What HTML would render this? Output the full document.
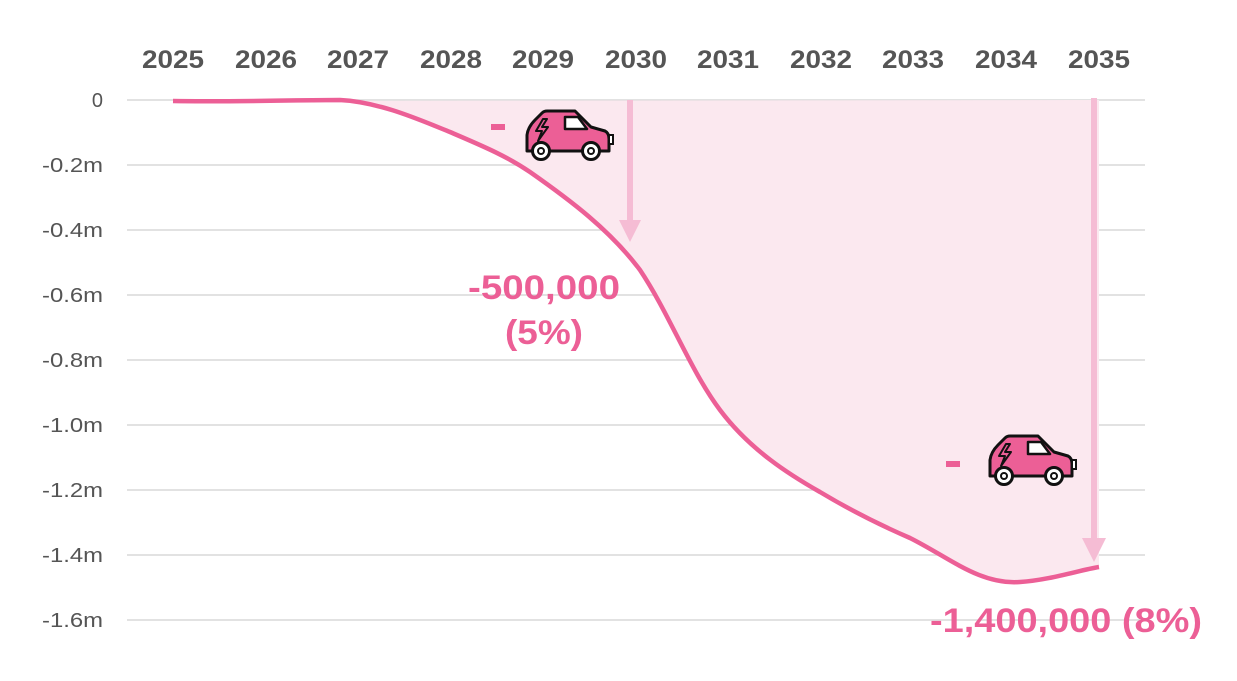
<!DOCTYPE html>
<html><head><meta charset="utf-8"><style>
html,body{margin:0;padding:0;background:#fff;}
svg{display:block;font-family:"Liberation Sans",Arial,sans-serif;}
</style></head><body>
<svg width="1237" height="681" viewBox="0 0 1237 681">
<defs>
<g id="car">
  <path d="M4,40 L4,24 Q5,16 12,9 L19,2 Q21,0 24,0 L52,0 L68,16 L82,20 Q86,22 86,28 L86,40 Z" fill="#ec5f96" stroke="#111" stroke-width="3" stroke-linejoin="round"/>
  <path d="M42,6 L55,6 L64,18 L42,18 Z" fill="#fff" stroke="#111" stroke-width="2.5" stroke-linejoin="round"/>
  <path d="M20,8 L13,20 L19,20 L15,30 L25,16 L19,16 L24,8 Z" fill="#ec5f96" stroke="#111" stroke-width="2" stroke-linejoin="round"/>
  <rect x="86" y="24" width="4" height="9" fill="#fff" stroke="#111" stroke-width="2"/>
  <circle cx="18" cy="40" r="8.5" fill="#fff" stroke="#111" stroke-width="3"/>
  <circle cx="18" cy="40" r="3" fill="#fff" stroke="#111" stroke-width="2"/>
  <circle cx="68" cy="40" r="8.5" fill="#fff" stroke="#111" stroke-width="3"/>
  <circle cx="68" cy="40" r="3" fill="#fff" stroke="#111" stroke-width="2"/>
</g>
</defs>
<g font-size="25" font-weight="bold" fill="#555" text-anchor="middle" lengthAdjust="spacingAndGlyphs">
<text x="173" y="68" textLength="62" lengthAdjust="spacingAndGlyphs">2025</text><text x="266" y="68" textLength="62" lengthAdjust="spacingAndGlyphs">2026</text><text x="358" y="68" textLength="62" lengthAdjust="spacingAndGlyphs">2027</text><text x="451" y="68" textLength="62" lengthAdjust="spacingAndGlyphs">2028</text><text x="543" y="68" textLength="62" lengthAdjust="spacingAndGlyphs">2029</text><text x="636" y="68" textLength="62" lengthAdjust="spacingAndGlyphs">2030</text><text x="728" y="68" textLength="62" lengthAdjust="spacingAndGlyphs">2031</text><text x="821" y="68" textLength="62" lengthAdjust="spacingAndGlyphs">2032</text><text x="913" y="68" textLength="62" lengthAdjust="spacingAndGlyphs">2033</text><text x="1006" y="68" textLength="62" lengthAdjust="spacingAndGlyphs">2034</text><text x="1099" y="68" textLength="62" lengthAdjust="spacingAndGlyphs">2035</text>
</g>
<g stroke="#d9d9d9" stroke-width="1.5">
<line x1="127" x2="1145" y1="100" y2="100"/><line x1="127" x2="1145" y1="165" y2="165"/><line x1="127" x2="1145" y1="230" y2="230"/><line x1="127" x2="1145" y1="295" y2="295"/><line x1="127" x2="1145" y1="360" y2="360"/><line x1="127" x2="1145" y1="425" y2="425"/><line x1="127" x2="1145" y1="490" y2="490"/><line x1="127" x2="1145" y1="555" y2="555"/><line x1="127" x2="1145" y1="620" y2="620"/>
</g>
<g font-size="20" fill="#555" text-anchor="end">
<text x="103" y="107">0</text><text x="103" y="172" textLength="61" lengthAdjust="spacingAndGlyphs">-0.2m</text><text x="103" y="237" textLength="61" lengthAdjust="spacingAndGlyphs">-0.4m</text><text x="103" y="302" textLength="61" lengthAdjust="spacingAndGlyphs">-0.6m</text><text x="103" y="367" textLength="61" lengthAdjust="spacingAndGlyphs">-0.8m</text><text x="103" y="432" textLength="61" lengthAdjust="spacingAndGlyphs">-1.0m</text><text x="103" y="497" textLength="61" lengthAdjust="spacingAndGlyphs">-1.2m</text><text x="103" y="562" textLength="61" lengthAdjust="spacingAndGlyphs">-1.4m</text><text x="103" y="627" textLength="61" lengthAdjust="spacingAndGlyphs">-1.6m</text>
</g>
<path d="M173,101 C230,102 300,100 340,100 C380,102 420,120 450,132 C480,145 505,155 530,172 C570,200 610,230 640,270 C670,315 690,370 720,410 C750,450 790,475 820,492 C850,510 880,525 910,538 C950,558 980,585 1020,582 C1050,580 1080,570 1099,567 L1099,100 Z" fill="#fbe8ef"/>
<path d="M173,101 C230,102 300,100 340,100 C380,102 420,120 450,132 C480,145 505,155 530,172 C570,200 610,230 640,270 C670,315 690,370 720,410 C750,450 790,475 820,492 C850,510 880,525 910,538 C950,558 980,585 1020,582 C1050,580 1080,570 1099,567" fill="none" stroke="#ec5f96" stroke-width="4.5"/>
<g fill="#f5bcd4">
<rect x="627" y="100" width="6" height="122"/><path d="M619,220 L641,220 L630,242 Z"/>
<rect x="1091" y="98" width="6" height="444"/><path d="M1082,538 L1106,538 L1094,562 Z"/>
</g>
<rect x="491" y="124" width="14" height="6" fill="#ec5f96"/>
<use href="#car" x="523" y="111"/>
<rect x="946" y="461" width="14" height="6" fill="#ec5f96"/>
<use href="#car" x="986" y="436"/>
<g font-weight="bold" fill="#ec5f96" text-anchor="middle" font-size="34">
<text x="544" y="299" textLength="152" lengthAdjust="spacingAndGlyphs">-500,000</text>
<text x="544" y="344" textLength="78" lengthAdjust="spacingAndGlyphs">(5%)</text>
<text x="1066" y="632" textLength="272" lengthAdjust="spacingAndGlyphs">-1,400,000 (8%)</text>
</g>
</svg>
</body></html>
